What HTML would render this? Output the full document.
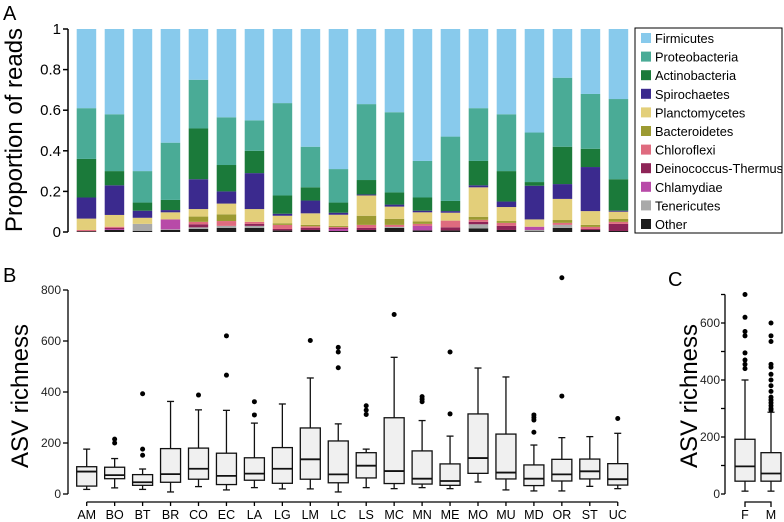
<!DOCTYPE html>
<html><head><meta charset="utf-8">
<style>
body{margin:0;background:#fff;}
svg{display:block;font-family:"Liberation Sans","DejaVu Sans",sans-serif;}
</style></head>
<body>
<svg id="fig" width="784" height="522" viewBox="0 0 784 522" xmlns="http://www.w3.org/2000/svg">
<text x="3" y="20" font-size="20">A</text>
<text x="3" y="282" font-size="20">B</text>
<text x="668" y="286" font-size="20">C</text>
<text transform="translate(22,130) rotate(-90)" text-anchor="middle" font-size="24">Proportion of reads</text>
<text transform="translate(28,396) rotate(-90)" text-anchor="middle" font-size="24">ASV richness</text>
<text transform="translate(697,396) rotate(-90)" text-anchor="middle" font-size="24">ASV richness</text>
<g id="pa"></g>
<g id="pb"></g>
<g id="pc"></g>
</svg>
<script>
// ---- Panel A data ----
const sites = ["AM","BO","BT","BR","CO","EC","LA","LG","LM","LC","LS","MC","MN","ME","MO","MU","MD","OR","ST","UC"];
const phyla = ["Other","Tenericutes","Chlamydiae","Deinococcus-Thermus","Chloroflexi","Bacteroidetes","Planctomycetes","Spirochaetes","Actinobacteria","Proteobacteria","Firmicutes"];
const phylaColors = ["#1c1c1c","#a9a9a9","#b84aa8","#8e2457","#df6b7f","#9c9a32","#e3cf7a","#3b2a8e","#1b7a3a","#4aab96","#88caec"];
const other       = [.004,.01,.006,.01,.015,.02,.02,.008,.01,.005,.01,.02,.008,.008,.018,.01,.004,.02,.01,.005];
const tenericutes = [0,0,.034,.003,.008,.01,.01,0,0,0,0,.005,0,0,.02,0,.006,.015,0,0];
const chlamydiae  = [0,.005,0,.049,0,0,0,0,0,.01,0,0,.022,0,0,0,.016,0,0,0];
const deinococcus = [0,.005,0,0,.015,0,.01,.007,.01,.005,.01,0,0,.015,.012,.02,0,0,.005,.035];
const chloroflexi = [.006,.006,0,0,.012,.024,.01,.02,.008,.005,.015,.01,.01,.033,.01,.015,0,.01,.01,.01];
const bacteroidetes=[0,0,0,0,.026,.033,0,.008,.007,.005,.045,.03,.012,0,.015,.009,0,.014,.01,.014];
const planctomycetes=[.056,.058,.03,.035,.037,.053,.063,.037,.057,.055,.10,.06,.045,.039,.145,.069,.036,.104,.068,.036];
const spirochaetes= [.104,.146,.035,.011,.147,.06,.177,.01,.063,.01,.005,.01,.008,.008,.01,.027,.166,.073,.217,.005];
const actinobacteria=[.19,.07,.04,.05,.25,.13,.11,.09,.065,.05,.071,.06,.065,.05,.12,.15,.018,.184,.09,.155];
const proteobacteria=[.25,.28,.155,.282,.24,.235,.15,.455,.20,.165,.374,.395,.18,.317,.26,.28,.244,.34,.27,.395];
const aTicks = [0,0.2,0.4,0.6,0.8,1];

// ---- Panel B data ----
const bSites = ["AM","BO","BT","BR","CO","EC","LA","LG","LM","LC","LS","MC","MN","ME","MO","MU","MD","OR","ST","UC"];
const bLow  = [18,24,18,8,29,16,25,20,20,8,25,21,25,21,47,16,12,12,30,21];
const bQ1   = [31,60,34,46,58,37,54,42,58,44,63,41,39,34,81,59,33,51,59,35];
const bMed  = [88,74,46,78,99,71,80,99,136,77,111,90,60,51,141,84,60,77,89,58];
const bQ3   = [107,105,76,178,180,160,142,182,259,208,162,299,169,118,314,235,114,136,137,119];
const bHigh = [176,139,98,363,330,328,278,353,455,275,176,536,288,227,494,459,192,221,225,238];
const bOut  = [[],[200,215],[152,176,393],[],[388],[466,620],[310,362],[],[602],[495,557,575],[312,329,346],[704],[362,372,382],[314,557],[],[],[242,290,300,310],[384,848],[],[296]];
const bTicks = [0,200,400,600,800];

// ---- Panel C data ----
const cGroups = ["F","M"];
const cLow  = [10,10];
const cQ1   = [45,45];
const cMed  = [97,72];
const cQ3   = [192,145];
const cHigh = [400,287];
const cOut  = [[440,455,470,495,555,570,620,700],[295,300,310,320,330,340,360,380,400,420,445,455,535,555,600]];
const cTicks = [0,200,400,600];

const NS="http://www.w3.org/2000/svg";
function mk(parent,tag,attrs,text){const e=document.createElementNS(NS,tag);for(const k in attrs)e.setAttribute(k,attrs[k]);if(text!==undefined)e.textContent=text;parent.appendChild(e);return e;}

// Panel A
(function(){
  const g=document.getElementById('pa');
  const y=v=>232-v*203;
  const x=i=>76.7+i*28;
  const bw=19.5;
  mk(g,'line',{x1:68,y1:y(1),x2:68,y2:y(0),stroke:'#000','stroke-width':1.5});
  aTicks.forEach(t=>{
    const tk=mk(g,'line',{x1:63,y1:y(t),x2:68,y2:y(t),stroke:'#000','stroke-width':1.5});
    
    
    const lb=mk(g,'text',{x:61,y:y(t)+5,'text-anchor':'end','font-size':15},String(t));
    
    
  });
  const series=[other,tenericutes,chlamydiae,deinococcus,chloroflexi,bacteroidetes,planctomycetes,spirochaetes,actinobacteria,proteobacteria];
  sites.forEach((s,i)=>{
    let cum=0;
    for(let k=0;k<phyla.length;k++){
      let v;
      if(k<series.length){v=series[k][i];}else{v=1-cum;}
      if(v<=0)continue;
      const r=mk(g,'rect',{x:x(i),y:y(cum+v),width:bw,height:Math.max(0,y(cum)-y(cum+v)),fill:phylaColors[k]});
      
      
      cum+=v;
    }
  });
  const lg=mk(g,'g',{});
  
  
  mk(lg,'rect',{x:635,y:28,width:147,height:205,fill:'#fff',stroke:'#000','stroke-width':1});
  const order=[10,9,8,7,6,5,4,3,2,1,0];
  order.forEach((k,j)=>{
    const yy=38+j*18.6;
    const e=mk(lg,'g',{});
    
    
    mk(e,'rect',{x:641,y:yy-5,width:10,height:10,fill:phylaColors[k]});
    mk(e,'text',{x:655,y:yy+5,'font-size':12.8},phyla[k]);
  });
})();

function boxes(g,names,cx,bw,y,low,q1,med,q3,high,out){
  names.forEach((n,i)=>{
    const bx=mk(g,'g',{});
    
    
    const c=cx(i);
    mk(bx,'line',{x1:c,y1:y(high[i]),x2:c,y2:y(q3[i]),stroke:'#111','stroke-width':1.3});
    mk(bx,'line',{x1:c,y1:y(q1[i]),x2:c,y2:y(low[i]),stroke:'#111','stroke-width':1.3});
    mk(bx,'line',{x1:c-3.5,y1:y(high[i]),x2:c+3.5,y2:y(high[i]),stroke:'#111','stroke-width':1.3});
    mk(bx,'line',{x1:c-3.5,y1:y(low[i]),x2:c+3.5,y2:y(low[i]),stroke:'#111','stroke-width':1.3});
    mk(bx,'rect',{x:c-bw/2,y:y(q3[i]),width:bw,height:y(q1[i])-y(q3[i]),fill:'#f0f0f0',stroke:'#111','stroke-width':1.3});
    mk(bx,'line',{x1:c-bw/2,y1:y(med[i]),x2:c+bw/2,y2:y(med[i]),stroke:'#111','stroke-width':1.8});
    out[i].forEach(v=>{
      const d=mk(bx,'circle',{cx:c,cy:y(v),r:2.5,fill:'#000'});
      
      
    });
  });
}

// Panel B
(function(){
  const g=document.getElementById('pb');
  const y=v=>494-v*0.255;
  const cx=i=>86.7+i*27.95;
  mk(g,'line',{x1:68,y1:y(800),x2:68,y2:y(0),stroke:'#000','stroke-width':1.3});
  bTicks.forEach(t=>{
    const tk=mk(g,'line',{x1:63,y1:y(t),x2:68,y2:y(t),stroke:'#000','stroke-width':1.3});
    
    
    const lb=mk(g,'text',{x:61,y:y(t)+4,'text-anchor':'end','font-size':12,fill:'#222'},String(t));
    
    
  });
  mk(g,'line',{x1:cx(0),y1:502,x2:cx(bSites.length-1),y2:502,stroke:'#000','stroke-width':1.3});
  bSites.forEach((s,i)=>{
    mk(g,'line',{x1:cx(i),y1:502,x2:cx(i),y2:506,stroke:'#000','stroke-width':1.3});
    const lb=mk(g,'text',{x:cx(i),y:519,'text-anchor':'middle','font-size':12.5},s);
    
    
  });
  boxes(g,bSites,cx,20,y,bLow,bQ1,bMed,bQ3,bHigh,bOut);
})();

// Panel C
(function(){
  const g=document.getElementById('pc');
  const y=v=>494-v*0.285;
  const cx=i=>745+i*26;
  mk(g,'line',{x1:725,y1:y(700),x2:725,y2:y(0),stroke:'#000','stroke-width':1.3});
  for(let t=0;t<=700;t+=100){
    mk(g,'line',{x1:721,y1:y(t),x2:725,y2:y(t),stroke:'#000','stroke-width':1.3});
  }
  cTicks.forEach(t=>{
    const lb=mk(g,'text',{x:720,y:y(t)+4,'text-anchor':'end','font-size':12,fill:'#222'},String(t));
    
    
  });
  mk(g,'path',{d:`M${cx(0)} 507 V502 H${cx(1)} V507`,fill:'none',stroke:'#000','stroke-width':1.3});
  cGroups.forEach((s,i)=>{
    const lb=mk(g,'text',{x:cx(i),y:519,'text-anchor':'middle','font-size':12.5},s);
    
    
  });
  boxes(g,cGroups,cx,20,y,cLow,cQ1,cMed,cQ3,cHigh,cOut);
})();
</script>
</body></html>
